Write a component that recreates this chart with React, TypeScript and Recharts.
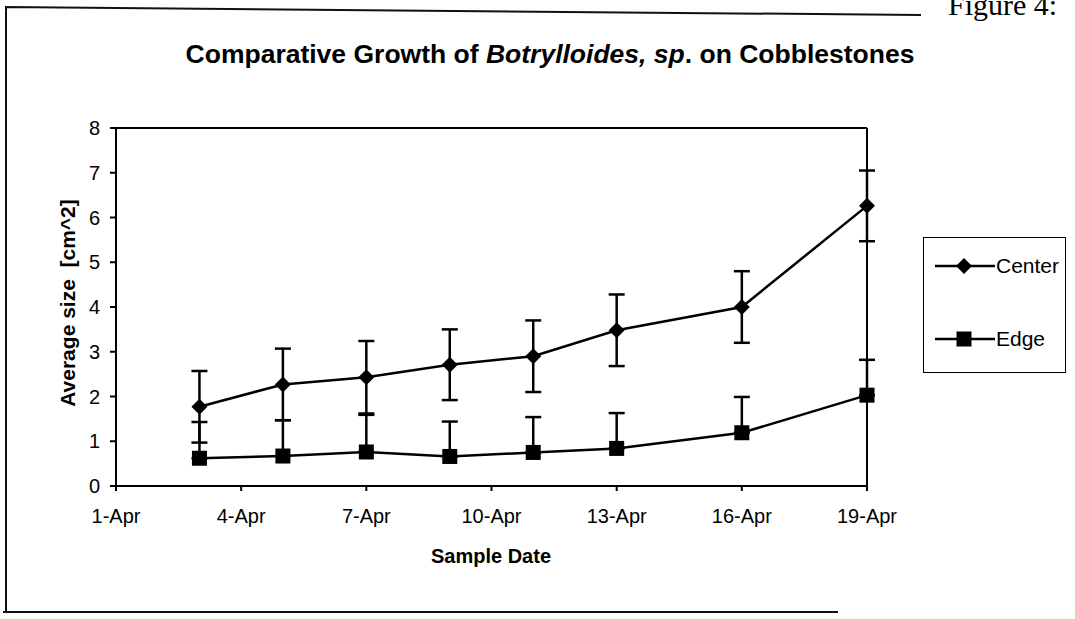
import React from 'react'
import { LineChart, Line, XAxis, YAxis, ErrorBar, ReferenceLine, Legend } from 'recharts'

// sample days (April)
const sampleDays = [3, 5, 7, 9, 11, 13, 16, 19]
const centerSize = [1.77, 2.27, 2.43, 2.71, 2.9, 3.48, 4.0, 6.26]
const centerErr = [0.8, 0.8, 0.81, 0.79, 0.8, 0.8, 0.8, 0.79]
const edgeSize = [0.62, 0.67, 0.76, 0.66, 0.75, 0.84, 1.19, 2.03]
const edgeErr = [0.81, 0.8, 0.83, 0.78, 0.79, 0.79, 0.8, 0.79]
const dayTicks = [1, 4, 7, 10, 13, 16, 19]
const sizeTicks = [0, 1, 2, 3, 4, 5, 6, 7, 8]

const data = sampleDays.map((d, i) => ({
  day: d,
  center: centerSize[i],
  centerErr: centerErr[i],
  edge: edgeSize[i],
  // edge only has the plus bar
  edgeErr: [0, edgeErr[i]],
}))

const FONT = '"Liberation Sans", Arial, Helvetica, sans-serif'

const Diamond = (props: any) => {
  const { cx, cy } = props
  if (cx == null || cy == null) return <g />
  return <path d={`M${cx},${cy - 8}L${cx + 8},${cy}L${cx},${cy + 8}L${cx - 8},${cy}Z`} fill="#000" />
}

const Square = (props: any) => {
  const { cx, cy } = props
  if (cx == null || cy == null) return <g />
  return <rect x={cx - 7.5} y={cy - 7.5} width={15} height={15} fill="#000" />
}

const LegendBox = (props: any) => {
  const payload = props.payload || []
  return (
    <div
      style={{
        width: 143,
        height: 136,
        border: '1.5px solid #000',
        boxSizing: 'border-box',
        background: '#fff',
        position: 'relative',
        fontFamily: FONT,
        fontSize: 21,
      }}
    >
      {payload.map((entry: any, i: number) => (
        <div
          key={entry.value}
          style={{ position: 'absolute', left: 11, top: 13 + i * 73, height: 30, display: 'flex', alignItems: 'center' }}
        >
          <svg width={60} height={30}>
            <line x1={0} y1={15} x2={60} y2={15} stroke="#000" strokeWidth={2.5} />
            {entry.dataKey === 'center' ? (
              <Diamond cx={29} cy={15} />
            ) : (
              <Square cx={29} cy={15} />
            )}
          </svg>
          <span style={{ marginLeft: 1, color: '#000' }}>{entry.value}</span>
        </div>
      ))}
    </div>
  )
}

export default function App() {
  return (
    <div style={{ position: 'absolute', left: 0, top: 0, width: 1075, height: 619, background: '#fff' }}>
      <LineChart
        width={1075}
        height={619}
        data={data}
        margin={{ top: 128, right: 208, bottom: 73, left: 46 }}
      >
        <XAxis
          dataKey="day"
          type="number"
          domain={[1, 19]}
          ticks={dayTicks}
          tickFormatter={(d: number) => `${d}-Apr`}
          height={60}
          stroke="#000"
          strokeWidth={2}
          tickSize={5}
          tickMargin={18}
          tick={{ fill: '#000', fontSize: 20, fontFamily: FONT }}
        />
        <YAxis
          type="number"
          domain={[0, 8]}
          ticks={sizeTicks}
          width={70}
          stroke="#000"
          strokeWidth={2}
          tickSize={6}
          tickMargin={10}
          tick={{ fill: '#000', fontSize: 20, fontFamily: FONT }}
        />
        <ReferenceLine y={8} stroke="#000" strokeWidth={2} />
        <ReferenceLine x={19} stroke="#000" strokeWidth={2} />
        <Legend
          layout="horizontal"
          verticalAlign="middle"
          align="center"
          content={LegendBox}
          wrapperStyle={{ left: 923, top: 237, width: 143, height: 136 }}
        />
        <Line
          dataKey="center"
          name="Center"
          stroke="#000"
          strokeWidth={2.5}
          dot={Diamond}
          activeDot={false}
          isAnimationActive={false}
        >
          <ErrorBar dataKey="centerErr" direction="y" width={8} stroke="#000" strokeWidth={2.5} isAnimationActive={false} />
        </Line>
        <Line
          dataKey="edge"
          name="Edge"
          stroke="#000"
          strokeWidth={2.5}
          dot={Square}
          activeDot={false}
          isAnimationActive={false}
        >
          <ErrorBar dataKey="edgeErr" direction="y" width={8} stroke="#000" strokeWidth={2.5} isAnimationActive={false} />
        </Line>
      </LineChart>
      <svg
        width={1075}
        height={619}
        style={{ position: 'absolute', left: 0, top: 0, pointerEvents: 'none' }}
      >
        <polyline points="6,612 6,7 921,15" fill="none" stroke="#111" strokeWidth={2} />
        <line x1={3} y1={612} x2={838} y2={612} stroke="#111" strokeWidth={2} />
        <text x={948} y={15} fontFamily='"Liberation Serif", "Times New Roman", serif' fontSize={30} fill="#000">
          Figure 4:
        </text>
        <text x={550} y={63} textAnchor="middle" fontFamily={FONT} fontSize={26.5} fontWeight="bold" fill="#000">
          Comparative Growth of <tspan fontStyle="italic">Botrylloides, sp</tspan>. on Cobblestones
        </text>
        <text
          x={0}
          y={0}
          transform="translate(75,303) rotate(-90)"
          textAnchor="middle"
          fontFamily={FONT}
          fontSize={21}
          fontWeight="bold"
          fill="#000"
        >
          {'Average size\u00A0\u00A0[cm^2]'}
        </text>
        <text x={491} y={563} textAnchor="middle" fontFamily={FONT} fontSize={20} fontWeight="bold" fill="#000">
          Sample Date
        </text>
      </svg>
    </div>
  )
}
